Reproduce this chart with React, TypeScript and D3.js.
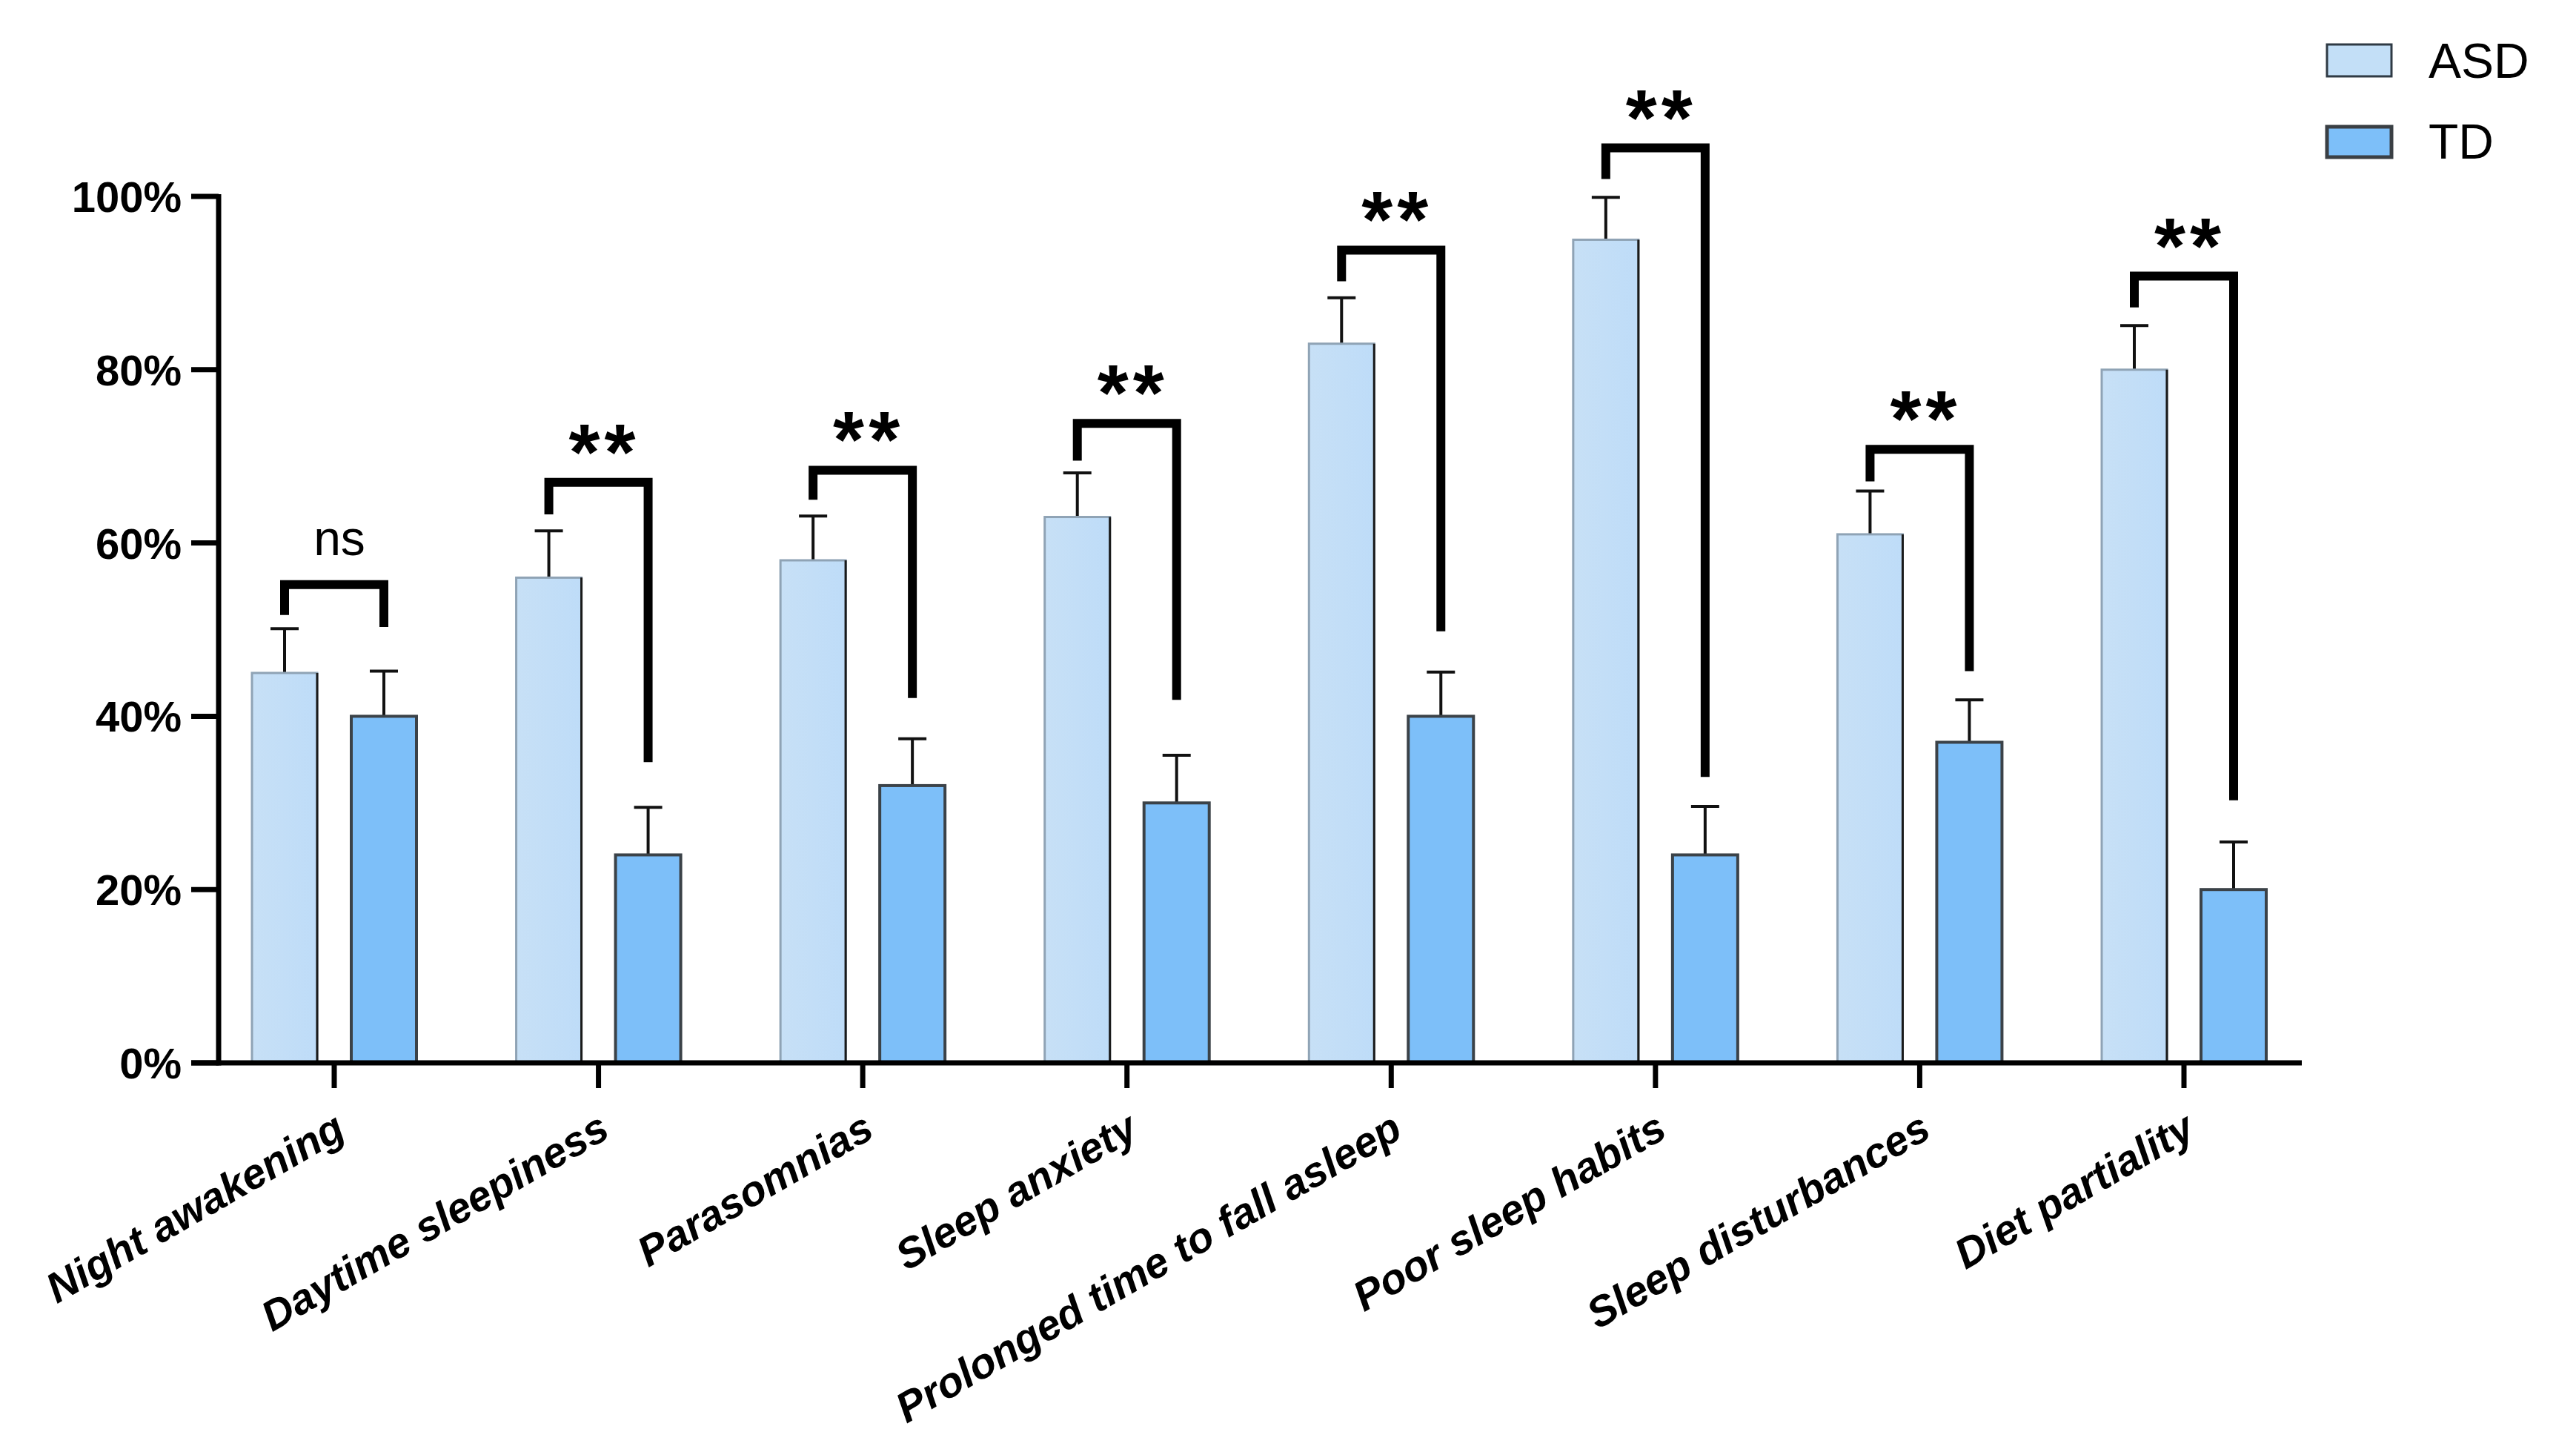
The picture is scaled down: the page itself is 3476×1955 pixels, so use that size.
import React from "react";
import * as d3 from "d3";

const categories = [
  "Night awakening",
  "Daytime sleepiness",
  "Parasomnias",
  "Sleep anxiety",
  "Prolonged time to fall asleep",
  "Poor sleep habits",
  "Sleep disturbances",
  "Diet partiality",
];
const asdValues = [45, 56, 58, 63, 83, 95, 61, 80];
const asdErrors = [5.1, 5.4, 5.1, 5.1, 5.3, 4.9, 5.0, 5.1];
const tdValues = [40, 24, 32, 30, 40, 24, 37, 20];
const tdErrors = [5.2, 5.5, 5.4, 5.5, 5.1, 5.6, 4.9, 5.5];
const significance = ["ns", "**", "**", "**", "**", "**", "**", "**"];
const bracketTop = [55.2, 67.0, 68.4, 73.8, 93.8, 105.6, 70.8, 90.8];
const bracketLeftEnd = [51.7, 63.3, 65.0, 69.5, 90.2, 102.0, 67.1, 87.2];
const bracketRightEnd = [50.3, 34.7, 42.1, 41.9, 49.8, 33.0, 45.2, 30.3];
const yTicks = [0, 20, 40, 60, 80, 100];
const seriesNames = ["ASD", "TD"];

const W = 3476;
const H = 1955;
const FONT = "'Liberation Sans', Arial, sans-serif";
const ASD_FILL = "#C3DFF7";
const TD_FILL = "#7DBFF9";

export default function App() {
  const y = d3.scaleLinear().domain([0, 100]).range([1434, 265]);
  const x = d3.scalePoint<string>().domain(categories).range([451, 2947]);
  const barW = 88;
  const off = 67;
  const fmt = (d: number) => `${d}%`;

  return (
    <svg
      width={W}
      height={H}
      viewBox={`0 0 ${W} ${H}`}
      style={{ position: "absolute", left: 0, top: 0, background: "#fff" }}
    >
      <defs>
        <linearGradient id="asdGrad" x1="0" x2="1" y1="0" y2="0">
          <stop offset="0" stopColor="#C7E0F6" />
          <stop offset="1" stopColor="#BEDCF8" />
        </linearGradient>
      </defs>
      <rect width={W} height={H} fill="#fff" />

      {/* bars */}
      {categories.map((c, i) => {
        const cx = x(c) as number;
        const ax = cx - off;
        const tx = cx + off;
        const ya = y(asdValues[i]);
        const yt = y(tdValues[i]);
        const yea = y(asdValues[i] + asdErrors[i]);
        const yet = y(tdValues[i] + tdErrors[i]);
        return (
          <g key={c}>
            <line x1={ax} x2={ax} y1={ya} y2={yea} stroke="#111" strokeWidth={4} />
            <line x1={ax - 19} x2={ax + 19} y1={yea} y2={yea} stroke="#111" strokeWidth={4} />
            <line x1={tx} x2={tx} y1={yt} y2={yet} stroke="#111" strokeWidth={4} />
            <line x1={tx - 19} x2={tx + 19} y1={yet} y2={yet} stroke="#111" strokeWidth={4} />
            <rect
              x={ax - barW / 2}
              y={ya}
              width={barW}
              height={y(0) - ya}
              fill="url(#asdGrad)"
              stroke="#8FA3B5"
              strokeWidth={3}
            />
            <line
              x1={ax + barW / 2}
              x2={ax + barW / 2}
              y1={ya}
              y2={y(0)}
              stroke="#1a1a1a"
              strokeWidth={3}
            />
            <rect
              x={tx - barW / 2}
              y={yt}
              width={barW}
              height={y(0) - yt}
              fill={TD_FILL}
              stroke="#3B4248"
              strokeWidth={4}
            />
          </g>
        );
      })}

      {/* significance brackets */}
      {categories.map((c, i) => {
        const cx = x(c) as number;
        const lx = cx - off;
        const rx = cx + off;
        const yt = y(bracketTop[i]);
        const d = `M${lx},${y(bracketLeftEnd[i])}V${yt}H${rx}V${y(bracketRightEnd[i])}`;
        const isNs = significance[i] === "ns";
        return (
          <g key={"b" + c}>
            <path d={d} fill="none" stroke="#000" strokeWidth={12} strokeLinejoin="miter" />
            {isNs ? (
              <text
                x={cx + 7}
                y={yt - 40}
                textAnchor="middle"
                fontFamily={FONT}
                fontSize={66}
                fill="#000"
              >
                {significance[i]}
              </text>
            ) : (
              <text
                x={cx + 8}
                y={yt - 4}
                textAnchor="middle"
                fontFamily={FONT}
                fontWeight="bold"
                fontSize={108}
                letterSpacing={6}
                fill="#000"
              >
                {significance[i]}
              </text>
            )}
          </g>
        );
      })}

      {/* y axis */}
      <line x1={295} x2={295} y1={y(100) - 3} y2={y(0) + 3.5} stroke="#000" strokeWidth={7} />
      {yTicks.map((t) => (
        <g key={"yt" + t}>
          <line x1={258} x2={295} y1={y(t)} y2={y(t)} stroke="#000" strokeWidth={7} />
          <text
            x={245}
            y={y(t) + 21}
            textAnchor="end"
            fontFamily={FONT}
            fontWeight="bold"
            fontSize={58}
            fill="#000"
          >
            {fmt(t)}
          </text>
        </g>
      ))}

      {/* x axis */}
      <line x1={258} x2={3106} y1={y(0)} y2={y(0)} stroke="#000" strokeWidth={7} />
      {categories.map((c) => {
        const cx = x(c) as number;
        return (
          <g key={"xt" + c}>
            <line x1={cx} x2={cx} y1={y(0)} y2={y(0) + 34} stroke="#000" strokeWidth={7} />
            <text
              transform={`translate(${cx + 18},1533) rotate(-30)`}
              textAnchor="end"
              fontFamily={FONT}
              fontWeight="bold"
              fontStyle="italic"
              fontSize={57}
              fill="#000"
            >
              {c}
            </text>
          </g>
        );
      })}

      {/* legend */}
      {seriesNames.map((s, i) => (
        <g key={s}>
          <rect
            x={3140}
            y={i === 0 ? 60 : 171}
            width={87}
            height={i === 0 ? 43 : 41}
            fill={i === 0 ? ASD_FILL : TD_FILL}
            stroke={i === 0 ? "#2f3a44" : "#3a3f44"}
            strokeWidth={i === 0 ? 3 : 5}
          />
          <text
            x={3277}
            y={i === 0 ? 105 : 214}
            fontFamily={FONT}
            fontSize={66}
            fill="#000"
          >
            {s}
          </text>
        </g>
      ))}
    </svg>
  );
}
